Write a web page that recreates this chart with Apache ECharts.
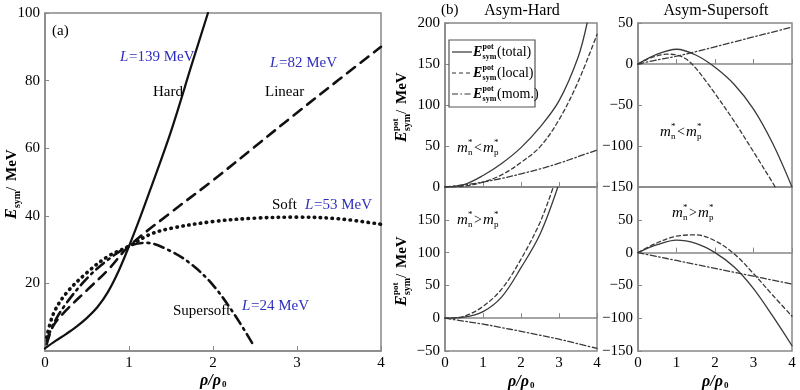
<!DOCTYPE html>
<html>
<head>
<meta charset="utf-8">
<script src="https://cdn.jsdelivr.net/npm/echarts@6.0.0/dist/echarts.min.js"></script>
<style>
html, body { margin: 0; padding: 0; background: #fff; }
#main { width: 800px; height: 390px; }
</style>
</head>
<body>
<div id="main"></div>
<script>
// ---- panel (a): E_sym vs rho/rho0 ----
var hardRho = [0, 0.125, 0.25, 0.375, 0.5, 0.625, 0.75, 0.875, 1, 1.125, 1.25, 1.5, 1.75, 1.94];
var hardE = [0.8, 3, 5, 7.2, 9.8, 13, 17.5, 23.6, 31, 39, 47.5, 65, 85, 100];
var linRho = [0.02, 0.1, 0.25, 0.5, 0.75, 1, 1.5, 2, 2.5, 3, 3.5, 4];
var linE = [2, 7.5, 12, 18, 24, 31, 41, 50.5, 60.5, 70.5, 80.3, 90];
var softRho = [0.02, 0.1, 0.25, 0.5, 0.75, 1, 1.25, 1.5, 2, 2.5, 3, 3.5, 4];
var softE = [4, 11, 17, 23.2, 28, 31, 34.5, 36.3, 38.3, 39.3, 39.6, 39.1, 37.5];
var ssRho = [0.02, 0.1, 0.25, 0.5, 0.75, 1, 1.2, 1.5, 1.75, 2, 2.25, 2.48];
var ssE = [3, 8, 14, 21.5, 27, 31, 32, 29.5, 25.5, 19.5, 11, 1.8];

// ---- panel (b): E_sym^pot, total / local / mom. ----
var rhoB = [0, 0.5, 1, 1.5, 2, 2.5, 3, 3.5, 4];
// Asym-Hard, mn* < mp*
var ahLoTotRho = [0, 0.5, 1, 1.5, 2, 2.5, 3, 3.5, 3.74];
var ahLoTot = [0, 3, 14, 29, 48, 73, 105, 158, 200];
var ahLoLoc = [0, 1, 6, 15, 30, 49, 82, 128, 186];
var ahLoMom = [0, 2.5, 6, 10.5, 16, 22, 29, 37, 45];
// Asym-Supersoft, mn* < mp*
var asLoTot = [0, 12, 18, 11, -4, -25, -55, -97, -150];
var asLoLocRho = [0, 0.25, 0.5, 0.75, 1, 1.25, 1.5, 1.75, 2, 2.5, 3, 3.5, 3.56];
var asLoLoc = [0, 6, 10, 12, 11, 6, -5, -20, -36, -70, -107, -145, -150];
var asLoMom = [0, 5, 9.5, 15, 21, 27, 33, 39, 45];
// Asym-Hard, mn* > mp*
var ahHiTotRho = [0, 0.5, 1, 1.5, 2, 2.5, 2.97];
var ahHiTot = [0, 1.5, 10, 33, 77, 128, 200];
var ahHiLocRho = [0, 0.5, 1, 1.5, 2, 2.5, 2.85];
var ahHiLoc = [0, 3, 18, 45, 90, 146, 200];
var ahHiMom = [0, -4.5, -9, -14.5, -20, -26, -32, -39, -46];
// Asym-Supersoft, mn* > mp*
var asHiTot = [0, 12, 19, 14, 0, -22, -55, -97, -142];
var asHiLoc = [0, 15, 25, 27, 18, -2, -32, -65, -97];
var asHiMom = [0, -6, -12, -18, -24, -30, -36, -42, -48];

var SERIF = '"Liberation Serif", "DejaVu Serif", serif';
var BLUE = '#2f2fbf';
var AXIS = '#888';

function pairs(xs, ys) {
	return xs.map(function(x, i) { return [x, ys[i]]; });
}

function curve(idx, xs, ys, width, dash, color) {
	return {
		type: 'line', xAxisIndex: idx, yAxisIndex: idx,
		data: pairs(xs, ys), showSymbol: false, smooth: 0.35,
		silent: true, animation: false, clip: true,
		lineStyle: { width: width, type: dash, color: color, cap: 'round' }
	};
}

function fmt(v) { return v < 0 ? '\u2212' + Math.abs(v) : String(v); }

function xAx(idx, showLabels) {
	return {
		type: 'value', gridIndex: idx, min: 0, max: 4, interval: 1,
		axisLine: { lineStyle: { color: AXIS, width: 1.5 } },
		axisTick: { inside: true, length: 5, lineStyle: { color: AXIS } },
		splitLine: { show: false },
		axisLabel: { show: showLabels, fontFamily: SERIF, fontSize: 15, color: '#000', margin: 5 }
	};
}
function yAx(idx, min, max, step, hideMax, hideMin) {
	return {
		type: 'value', gridIndex: idx, min: min, max: max, interval: step,
		axisLine: { lineStyle: { color: AXIS, width: 1.5 } },
		axisTick: { inside: true, length: 4, lineStyle: { color: AXIS } },
		splitLine: { show: false },
		axisLabel: {
			fontFamily: SERIF, fontSize: 15, color: '#000', margin: 5, formatter: fmt,
			showMaxLabel: !hideMax, showMinLabel: !hideMin
		}
	};
}

function t(x, y, str, font, extra) {
	var st = { text: str, font: font, fill: '#000', align: 'left', verticalAlign: 'middle' };
	for (var k in extra) st[k] = extra[k];
	return { type: 'text', x: x, y: y, style: st, z: 50 };
}

// E with stacked sup/sub, e.g. E^pot_sym
function eSym(x0, withPot, size) {
	var s = size || 15;
	var out = [t(x0, 0, 'E', 'italic bold ' + s + 'px ' + SERIF)];
	if (withPot) out.push(t(x0 + s * 0.68, -s * 0.38, 'pot', 'bold ' + Math.round(s * 0.55) + 'px ' + SERIF));
	out.push(t(x0 + s * 0.68, s * 0.35, 'sym', 'bold ' + Math.round(s * 0.6) + 'px ' + SERIF));
	return out;
}

function yTitle(cx, cy, withPot) {
	var x0 = -37;
	var kids = eSym(x0, withPot, 16);
	kids.push(t(x0 + 28, 0, '/ ', '15px ' + SERIF));
	kids.push(t(x0 + 38, 0, 'MeV', 'bold 15px ' + SERIF));
	return { type: 'group', x: cx, y: cy, rotation: Math.PI / 2, children: kids };
}

function xTitle(cx, cy) {
	return { type: 'group', x: cx - 13, y: cy, children: [
		t(0, 0, '\u03c1/\u03c1', 'italic bold 16px ' + SERIF),
		t(22, 4, '0', 'bold 9px ' + SERIF)
	] };
}

function mLabel(x, y, rel) {
	var mf = 'italic 15px ' + SERIF, sf = '9px ' + SERIF;
	return { type: 'group', x: x, y: y, children: [
		t(0, 0, 'm', mf), t(11, -5, '*', sf), t(11, 5, 'n', sf),
		t(17, 0, rel, '14px ' + SERIF),
		t(26, 0, 'm', mf), t(37, -5, '*', sf), t(37, 5, 'p', sf)
	] };
}

function legendRow(y, label, dash) {
	var kids = [{ type: 'line', shape: { x1: 452, y1: y, x2: 472, y2: y },
		style: { stroke: '#333', lineWidth: 1.2, lineDash: dash }, z: 50 }];
	var e = eSym(0, true, 14);
	kids.push({ type: 'group', x: 473, y: y, children: e.concat([t(24, 0, label, '14px ' + SERIF)]) });
	return kids;
}

var chart = echarts.init(document.getElementById('main'));

var grids = [
	{ left: 45, top: 13, width: 336, height: 338 },
	{ left: 445, top: 23, width: 152, height: 164 },
	{ left: 638, top: 23, width: 154, height: 164 },
	{ left: 445, top: 187, width: 152, height: 164 },
	{ left: 638, top: 187, width: 154, height: 164 }
].map(function(g) {
	g.show = true; g.borderColor = AXIS; g.borderWidth = 1.5; g.containLabel = false;
	return g;
});

var K = '#111', G = '#3a3a3a';
var dashR = [4, 3], dotDashR = [6, 2.5, 1.5, 2.5];

function blueL(x, y, rest) {
	return { type: 'group', x: x, y: y, children: [
		t(0, 0, 'L', 'italic 15px ' + SERIF, { fill: BLUE }),
		t(9, 0, rest, '15px ' + SERIF, { fill: BLUE })
	] };
}

var graphics = [
	t(52, 31, '(a)', '15px ' + SERIF),
	blueL(120, 57, '=139 MeV'),
	t(153, 92, 'Hard', '15px ' + SERIF),
	blueL(270, 63, '=82 MeV'),
	t(265, 92, 'Linear', '15px ' + SERIF),
	t(272, 205, 'Soft', '15px ' + SERIF),
	blueL(305, 205, '=53 MeV'),
	t(173, 311, 'Supersoft', '15px ' + SERIF),
	blueL(242, 306, '=24 MeV'),
	yTitle(12, 182, false),
	xTitle(213, 381),

	t(441, 10, '(b)', '15px ' + SERIF),
	t(522, 11, 'Asym-Hard', '16px ' + SERIF, { align: 'center' }),
	t(716, 11, 'Asym-Supersoft', '16px ' + SERIF, { align: 'center' }),
	yTitle(402, 105, true),
	yTitle(402, 269, true),
	xTitle(521, 382),
	xTitle(715, 382),
	mLabel(457, 148, '<'),
	mLabel(660, 132, '<'),
	mLabel(457, 220, '>'),
	mLabel(672, 213, '>'),
	{ type: 'rect', shape: { x: 449, y: 40, width: 86, height: 67 },
		style: { fill: '#fff', stroke: '#555', lineWidth: 1.2 }, z: 40 }
].concat(legendRow(52, '(total)', null))
 .concat(legendRow(73, '(local)', dashR))
 .concat(legendRow(94, '(mom.)', dotDashR));

var option = {
	backgroundColor: '#fff',
	animation: false,
	grid: grids,
	xAxis: [xAx(0, true), xAx(1, false), xAx(2, false), xAx(3, true), xAx(4, true)],
	yAxis: [
		yAx(0, 0, 100, 20, false, true),
		yAx(1, 0, 200, 50, false, false),
		yAx(2, -150, 50, 50, false, false),
		yAx(3, -50, 200, 50, true, false),
		yAx(4, -150, 100, 50, true, false)
	],
	series: [
		curve(0, hardRho, hardE, 2.2, 'solid', K),
		curve(0, linRho, linE, 2.6, [10, 7], K),
		curve(0, softRho, softE, 3.6, [0.5, 5.5], K),
		curve(0, ssRho, ssE, 2.6, [10, 5, 2, 5], K),

		curve(1, ahLoTotRho, ahLoTot, 1.3, 'solid', G),
		curve(1, rhoB, ahLoLoc, 1.3, dashR, G),
		curve(1, rhoB, ahLoMom, 1.3, dotDashR, G),

		curve(2, rhoB, asLoTot, 1.3, 'solid', G),
		curve(2, asLoLocRho, asLoLoc, 1.3, dashR, G),
		curve(2, rhoB, asLoMom, 1.3, dotDashR, G),

		curve(3, ahHiTotRho, ahHiTot, 1.3, 'solid', G),
		curve(3, ahHiLocRho, ahHiLoc, 1.3, dashR, G),
		curve(3, rhoB, ahHiMom, 1.3, dotDashR, G),

		curve(4, rhoB, asHiTot, 1.3, 'solid', G),
		curve(4, rhoB, asHiLoc, 1.3, dashR, G),
		curve(4, rhoB, asHiMom, 1.3, dotDashR, G)
	],
	graphic: graphics
};

chart.setOption(option);
</script>
</body>
</html>
